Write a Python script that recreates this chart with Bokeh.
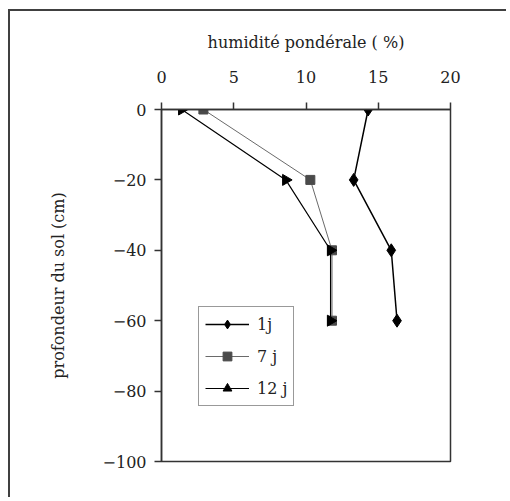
import numpy as np
from bokeh.plotting import figure
from bokeh.models import ColumnDataSource, Legend, LegendItem, FixedTicker, Range1d
from bokeh.embed import file_html
from bokeh.resources import INLINE

# ---- data ----
depth = [0, -20, -40, -60]
hum_1j = [14.3, 13.3, 15.9, 16.3]
hum_7j = [2.9, 10.3, 11.8, 11.8]
hum_12j = [1.4, 8.6, 11.7, 11.7]
series_labels = ["1j", "7 j", "12 j"]
x_ticks = [0, 5, 10, 15, 20]
y_ticks = [0, -20, -40, -60, -80, -100]

FONT = "DejaVu Serif"
DARK = "#333333"

p = figure(
    output_backend="svg", toolbar_location=None,
    frame_width=289, frame_height=352,
    min_border_left=151, min_border_top=98, min_border_right=56, min_border_bottom=36,
    x_range=Range1d(0, 20), y_range=Range1d(-100, 0),
    x_axis_location="above",
)
p.styles = {
    "margin-left": "8px", "margin-top": "9px",
    "border-left": "2px solid #404040", "border-top": "2px solid #404040",
}

p.xgrid.visible = False
p.ygrid.visible = False
p.outline_line_color = DARK
p.outline_line_width = 1.5
p.background_fill_color = "white"
p.border_fill_color = "white"

for ax in (p.xaxis[0], p.yaxis[0]):
    ax.axis_line_color = DARK
    ax.axis_line_width = 1.5
    ax.major_tick_line_color = DARK
    ax.major_tick_line_width = 1.5
    ax.major_tick_out = 7
    ax.major_tick_in = 0
    ax.minor_tick_line_color = None
    ax.major_label_text_font = FONT
    ax.major_label_text_font_size = "16px"
    ax.major_label_text_color = "#222222"
    ax.axis_label_text_font = FONT
    ax.axis_label_text_font_size = "16px"
    ax.axis_label_text_font_style = "normal"
    ax.axis_label_text_color = "#222222"

p.xaxis.ticker = FixedTicker(ticks=x_ticks)
p.yaxis.ticker = FixedTicker(ticks=y_ticks)
p.xaxis.axis_label = "humidité pondérale ( %)"
p.yaxis.axis_label = "profondeur du sol (cm)"
p.xaxis.major_label_standoff = 20
p.xaxis.axis_label_standoff = 16
p.yaxis.major_label_standoff = 8
p.yaxis.axis_label_standoff = 32

s1 = ColumnDataSource(dict(x=hum_1j, y=depth))
s7 = ColumnDataSource(dict(x=hum_7j, y=depth))
s12 = ColumnDataSource(dict(x=hum_12j, y=depth))

p.line("x", "y", source=s1, line_color="black", line_width=1.5)
p.scatter("x", "y", source=s1, marker="diamond", size=13, color="black")
p.line("x", "y", source=s7, line_color="#6a6a6a", line_width=1)
p.scatter("x", "y", source=s7, marker="square", size=9, color="#4a4a4a")
p.line("x", "y", source=s12, line_color="black", line_width=1.2)
p.scatter("x", "y", source=s12, marker="triangle", size=11, color="black", angle=-np.pi / 2)

# legend-only renderers (upright markers, as in the reference legend); their
# single point lies outside the visible ranges
off = dict(x=[-50], y=[50])
l1 = p.line("x", "y", source=ColumnDataSource(off), line_color="black", line_width=1.5)
m1 = p.scatter("x", "y", source=ColumnDataSource(off), marker="diamond", color="black")
l7 = p.line("x", "y", source=ColumnDataSource(off), line_color="#6a6a6a", line_width=1)
m7 = p.scatter("x", "y", source=ColumnDataSource(off), marker="square", color="#4a4a4a")
l12 = p.line("x", "y", source=ColumnDataSource(off), line_color="black", line_width=1.2)
m12 = p.scatter("x", "y", source=ColumnDataSource(off), marker="triangle", color="black")

legend = Legend(
    items=[
        LegendItem(label=series_labels[0], renderers=[l1, m1]),
        LegendItem(label=series_labels[1], renderers=[l7, m7]),
        LegendItem(label=series_labels[2], renderers=[l12, m12]),
    ],
    location=(37, 55),
    glyph_width=44, glyph_height=22, label_height=22,
    spacing=10, padding=6, margin=0, label_standoff=8,
    label_text_font=FONT, label_text_font_size="16px", label_text_color="#222222",
    border_line_color=DARK, border_line_width=1.5,
    background_fill_color="white", background_fill_alpha=1,
)
p.add_layout(legend, "center")

open("out.html", "w").write(file_html(p, INLINE))
